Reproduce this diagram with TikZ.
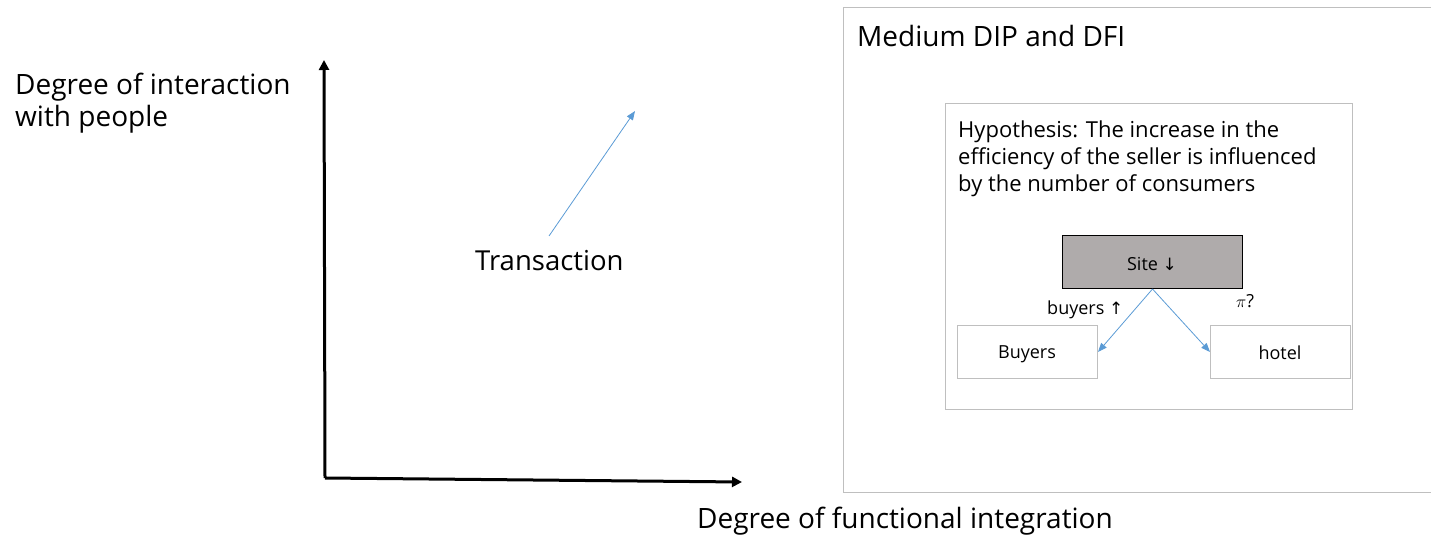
\documentclass[tikz,border=0pt]{standalone}
\usepackage{fontspec}
\setmainfont{Open Sans}
\newfontfamily\symfont{DejaVu Sans}
\usetikzlibrary{arrows.meta}
\definecolor{arrowblue}{HTML}{5B9BD5}
\definecolor{boxgray}{HTML}{AFABAB}
\definecolor{framegray}{HTML}{BFBFBF}
\begin{document}
\begin{tikzpicture}[x=1pt,y=-1pt,
  axis/.style={line width=3pt,-{Triangle[length=10pt,width=10pt]}},
  blue arrow/.style={arrowblue,line width=0.8pt,-{Triangle[length=9pt,width=7pt]}},
  smallbox/.style={draw=framegray,line width=1pt,minimum width=140pt,minimum height=53pt,inner sep=0pt},
  boxtext/.style={inner sep=0pt,anchor=base,font=\fontsize{18}{21}\selectfont},
  big/.style={inner sep=0pt,anchor=base west,font=\fontsize{28}{32}\selectfont}]
\useasboundingbox (0,0) rectangle (1431,545);
% outer and inner frames
\draw[framegray,line width=1pt] (1440,8) -- (843,8) -- (843,492) -- (1440,492);
\node[draw=framegray,line width=1pt,minimum width=407pt,minimum height=306pt,inner sep=0pt,anchor=north west] (inner) at (945,103) {};
% axes
\coordinate (origin) at (325,478);
\coordinate (ytip) at (324,60);
\coordinate (xtip) at (742,482);
\draw[axis] (origin) -- (ytip);
\draw[axis] (origin) -- (xtip);
% labels
\node[big] (ylab1) at (15,95) {Degree of interaction};
\node[big] (ylab2) at (15,127) {with people};
\node[big] (xlab) at (697,528) {Degree of functional integration};
\node[big,font=\fontsize{27.5}{32}\selectfont] (trans) at (475,270) {Transaction};
\coordinate (tstart) at (549,236);
\coordinate (tend) at (635,111);
\draw[blue arrow] (tstart) -- (tend);
\node[big] (title) at (857,47) {Medium DIP and DFI};
\node[big,font=\fontsize{22}{27}\selectfont] (hyp1) at (958,138) {Hypothesis: The increase in the};
\node[big,font=\fontsize{22}{27}\selectfont] (hyp2) at (958,165) {efficiency of the seller is influenced};
\node[big,font=\fontsize{22}{27}\selectfont] (hyp3) at (958,192) {by the number of consumers};
% boxes
\node[smallbox,fill=boxgray,draw=black,minimum width=180pt,anchor=north west] (site) at (1062,235) {};
\node[smallbox,anchor=north west] (buyers) at (957,325) {};
\node[smallbox,anchor=north west] (hotel) at (1210,325) {};
\node[boxtext] (sitetext) at (1152,270) {Site {\symfont\fontsize{17}{20}\selectfont↓}};
\node[boxtext] (buyerstext) at (1027,358) {Buyers};
\node[boxtext] (hoteltext) at (1280,359) {hotel};
\draw[blue arrow] (site.south) -- (buyers.east);
\draw[blue arrow] (site.south) -- (hotel.west);
\node[boxtext,anchor=base west] (blab) at (1047,314) {buyers {\symfont\fontsize{17}{20}\selectfont↑}};
\node[boxtext,anchor=base west] (pilab) at (1236,307) {$\pi$?};
\end{tikzpicture}
\end{document}
